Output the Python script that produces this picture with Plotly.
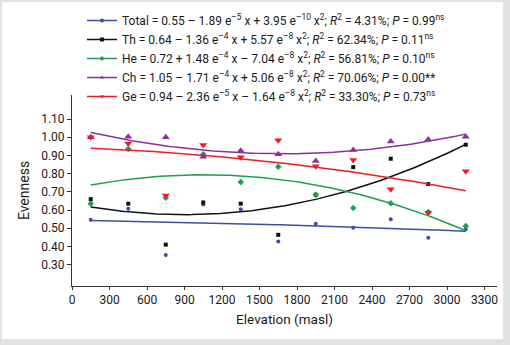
import numpy as np
import plotly.graph_objects as go

# ---- data ----
elevation = [150, 450, 750, 1050, 1350, 1650, 1950, 2250, 2550, 2850, 3150]
total = [0.547, 0.607, 0.353, 0.631, 0.604, 0.428, 0.525, 0.503, 0.549, 0.448, 0.494]
th = [0.660, 0.635, 0.410, 0.642, 0.635, 0.464, 0.684, 0.836, 0.882, 0.743, 0.959]
he = [0.635, 0.935, 0.668, 0.906, 0.754, 0.838, 0.684, 0.611, 0.638, 0.590, 0.512]
ch = [1.000, 1.003, 1.000, 0.893, 0.926, 0.906, 0.869, 0.930, 0.977, 0.988, 1.003]
ge = [1.000, 0.966, 0.680, 0.957, 0.890, 0.983, 0.840, 0.875, 0.715, 0.585, 0.813]

series_names = ["Total", "Th", "He", "Ch", "Ge"]
legend_labels = [
    "Total = 0.55 – 1.89 e<sup>–5</sup> x + 3.95 e<sup>–10</sup> x<sup>2</sup>; <i>R</i><sup>2</sup> = 4.31%; <i>P</i> = 0.99<sup>ns</sup>",
    "Th = 0.64 – 1.36 e<sup>–4</sup> x + 5.57 e<sup>–8</sup> x<sup>2</sup>; <i>R</i><sup>2</sup> = 62.34%; <i>P</i> = 0.11<sup>ns</sup>",
    "He = 0.72 + 1.48 e<sup>–4</sup> x – 7.04 e<sup>–8</sup> x<sup>2</sup>; <i>R</i><sup>2</sup> = 56.81%; <i>P</i> = 0.10<sup>ns</sup>",
    "Ch = 1.05 – 1.71 e<sup>–4</sup> x + 5.06 e<sup>–8</sup> x<sup>2</sup>; <i>R</i><sup>2</sup> = 70.06%; <i>P</i> = 0.00**",
    "Ge = 0.94 – 2.36 e<sup>–5</sup> x – 1.64 e<sup>–8</sup> x<sup>2</sup>; <i>R</i><sup>2</sup> = 33.30%; <i>P</i> = 0.73<sup>ns</sup>",
]
y_ticks = [0.30, 0.40, 0.50, 0.60, 0.70, 0.80, 0.90, 1.00, 1.10]
x_ticks = [0, 300, 600, 900, 1200, 1500, 1800, 2100, 2400, 2700, 3000, 3300]

colors = ["#3b4ea3", "#111111", "#1f9e4f", "#8e2f9f", "#ec1c24"]
symbols = ["circle", "square", "diamond", "triangle-up", "triangle-down"]
msizes = [4, 4, 5, 7, 7]

FONT = "Roboto, sans-serif"

fig = go.Figure()
values = [total, th, he, ch, ge]
xs = np.array(elevation, dtype=float)
xfit = np.linspace(min(elevation), max(elevation), 120)
for name, vals, col, sym, ms, lab in zip(series_names, values, colors, symbols, msizes, legend_labels):
    coef = np.polyfit(xs, np.array(vals), 2)
    fig.add_trace(go.Scatter(x=xfit, y=np.polyval(coef, xfit), mode="lines",
                             line=dict(color=col, width=1.5), showlegend=False, hoverinfo="skip"))
    fig.add_trace(go.Scatter(x=elevation, y=vals, mode="markers", name=name,
                             marker=dict(color=col, symbol=sym, size=ms), showlegend=False))
    fig.add_trace(go.Scatter(x=[None], y=[None], mode="lines+markers", name=lab,
                             legendgroup=name,
                             line=dict(color=col, width=1.5),
                             marker=dict(color=col, symbol=sym, size=4)))

W, H = 510, 345
L, R, T, B = 72, 13, 95, 59
pw, ph = W - L - R, H - T - B
def px_x(p):
    return (p - L) / pw
def px_y(p):
    return (H - B - p) / ph

fig.add_shape(type="rect", xref="paper", yref="paper",
              x0=px_x(2), x1=px_x(503), y0=px_y(339), y1=px_y(2),
              fillcolor="white", line=dict(width=0), layer="below")

fig.update_layout(
    width=W, height=H,
    margin=dict(l=L, r=R, t=T, b=B, pad=0, autoexpand=False),
    paper_bgcolor="#e2e2e2",
    plot_bgcolor="rgba(0,0,0,0)",
    font=dict(family=FONT, color="#1a1a1a", size=12),
    showlegend=True,
    legend=dict(x=px_x(82), y=px_y(6), xanchor="left", yanchor="top",
                bgcolor="rgba(0,0,0,0)", font=dict(size=12, family=FONT),
                tracegroupgap=0, itemwidth=30),
    xaxis=dict(range=[0, 3400], tickvals=x_ticks, ticktext=[str(v) for v in x_ticks],
               showgrid=False, zeroline=False, showline=True, linecolor="#333", linewidth=1,
               ticks="outside", ticklen=3, tickcolor="#333", tickfont=dict(size=12),
               automargin=False,
               title=dict(text="Elevation (masl)", font=dict(size=13.5), standoff=8)),
    yaxis=dict(range=[0.183, 1.232], tickvals=y_ticks, ticktext=[f"{v:.2f}" for v in y_ticks],
               showgrid=False, zeroline=False, showline=True, linecolor="#333", linewidth=1,
               ticks="outside", ticklen=4, tickcolor="#333", tickfont=dict(size=12),
               automargin=False,
               title=dict(text="Evenness", font=dict(size=14), standoff=8)),
)

fig.write_html("out.html", config={"displayModeBar": False},
               post_script="document.body.style.margin='0px';")
